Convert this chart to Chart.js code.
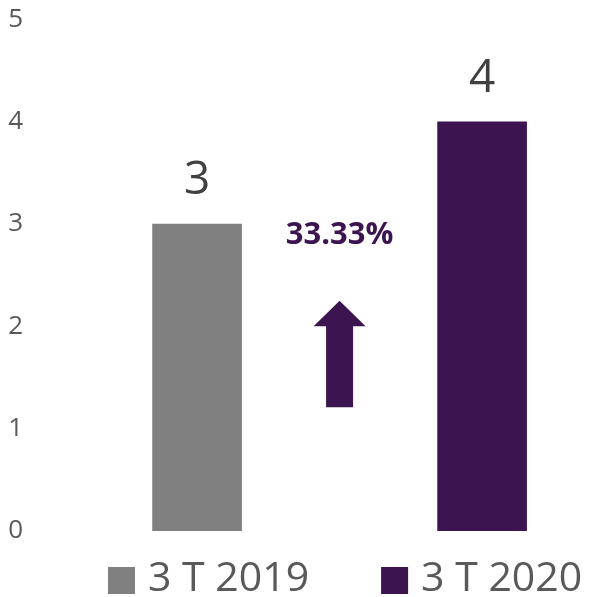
<!DOCTYPE html>
<html>
<head>
<meta charset="utf-8">
<script src="https://cdn.jsdelivr.net/npm/chart.js@4/dist/chart.umd.min.js"></script>
<style>
  html, body { margin: 0; padding: 0; background: #fff; }
  #wrap { width: 589px; height: 597px; }
</style>
</head>
<body>
<div id="wrap"><canvas id="myChart" width="589" height="597"></canvas></div>
<script>
const categories = ['3 T 2019', '3 T 2020'];
const values = [3, 4];
const colors = ['#808080', '#3b1450'];
const yTicks = [0, 1, 2, 3, 4, 5];

const FONT = "'Open Sans', 'DejaVu Sans', sans-serif";

// value labels, growth arrow and the legend row
const extras = {
    id: 'extras',
    afterDatasetsDraw(chart) {
        const c = chart.ctx;
        const xs = chart.scales.x, ys = chart.scales.y;
        c.save();
        c.fillStyle = '#404040';
        c.font = '46px ' + FONT;
        c.textAlign = 'center';
        c.textBaseline = 'middle';
        chart.data.datasets.forEach((ds, i) => {
            const bar = chart.getDatasetMeta(i).data[0];
            c.fillText(String(values[i]), bar.x, bar.y - 43);
        });

        const pct = (values[1] - values[0]) / values[0] * 100;
        const mx = xs.getPixelForValue(1.5);
        c.fillStyle = '#3b1450';
        c.font = 'bold 31px ' + FONT;
        c.fillText(pct.toFixed(2) + '%', mx, ys.getPixelForValue(2.87) - 2);

        const tip = ys.getPixelForValue(2.25);
        const neck = ys.getPixelForValue(2.0);
        const tail = ys.getPixelForValue(1.21);
        c.beginPath();
        c.moveTo(mx, tip);
        c.lineTo(mx + 26, neck);
        c.lineTo(mx + 13.5, neck);
        c.lineTo(mx + 13.5, tail);
        c.lineTo(mx - 13.5, tail);
        c.lineTo(mx - 13.5, neck);
        c.lineTo(mx - 26, neck);
        c.closePath();
        c.fill();

        // legend
        c.font = '41px ' + FONT;
        c.textAlign = 'left';
        const ly = chart.chartArea.bottom + 49;
        let lx = 108;
        categories.forEach((cat, i) => {
            c.fillStyle = colors[i];
            c.fillRect(lx, ly - 13, 27, 27);
            c.fillStyle = '#595959';
            c.fillText(cat, lx + 40, ly - 1);
            lx += 40 + c.measureText(cat).width + 72;
        });
        c.restore();
    }
};

const ctx = document.getElementById('myChart').getContext('2d');

var myChart = new Chart(ctx, {
    type: 'bar',
    data: {
        datasets: values.map((v, i) => ({
            label: categories[i],
            data: [{ x: i + 1, y: v }],
            backgroundColor: colors[i],
            barThickness: 89,
            grouped: false
        }))
    },
    options: {
        responsive: false,
        animation: false,
        layout: { padding: { top: 0, right: 0, bottom: 66, left: 0 } },
        plugins: {
            tooltip: { enabled: false },
            legend: { display: false }
        },
        scales: {
            x: {
                type: 'linear',
                offset: false,
                min: 0.449,
                max: 2.375,
                display: false
            },
            y: {
                min: 0,
                max: 5,
                afterBuildTicks: (s) => { s.ticks = yTicks.map(v => ({ value: v })); },
                afterFit: (s) => { s.width = 40; },
                grid: { display: false },
                border: { display: false },
                ticks: {
                    color: '#595959',
                    font: { family: FONT, size: 26, lineHeight: 0.8 },
                    padding: 9
                }
            }
        }
    },
    plugins: [extras]
});
</script>
</body>
</html>
